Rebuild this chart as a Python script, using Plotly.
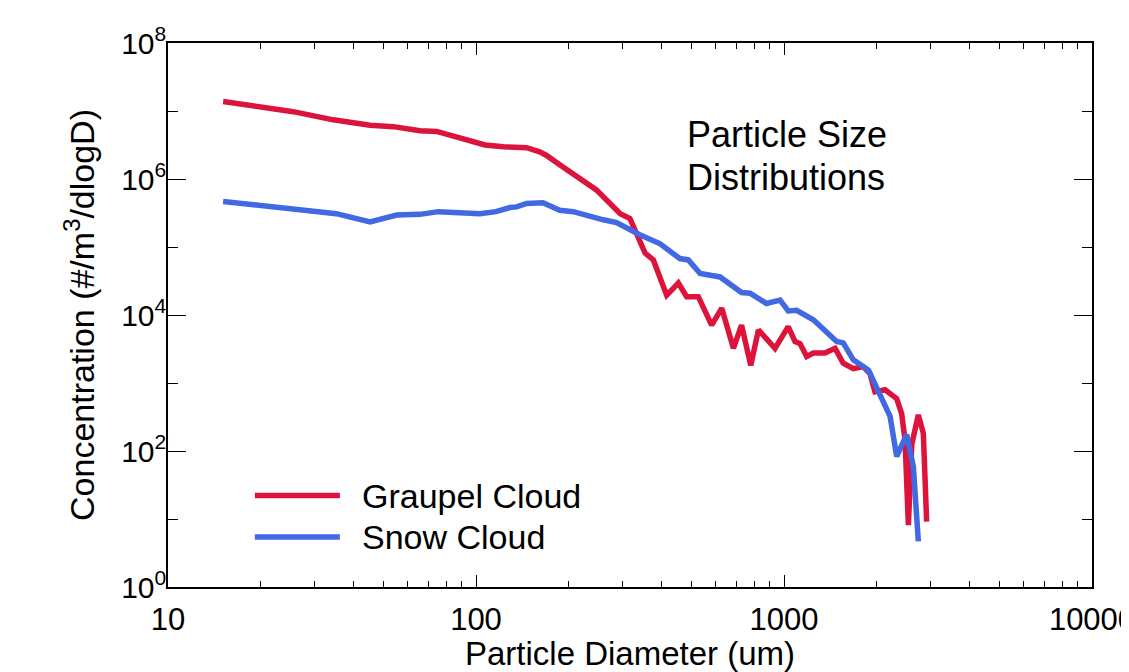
import plotly.graph_objects as go

# Graupel cloud size distribution (diameter um, concentration #/m^3/dlogD)
graupel_d = [15.1, 25.5, 34.4, 45.3, 53.9, 65.8, 74.5, 95.7, 107, 122.7, 146, 161, 169,
             187, 218, 246, 294, 316, 354, 376.5, 416, 454, 483, 527, 582, 628, 685,
             728, 780, 826, 935, 1032, 1086, 1127, 1185, 1245, 1358, 1465, 1557, 1679,
             1808, 1901, 1974, 2128, 2322, 2410, 2472, 2534, 2600, 2730, 2834, 2905]
graupel_logc = [7.14, 6.99, 6.87, 6.79, 6.77, 6.71, 6.70, 6.57, 6.50, 6.475, 6.46, 6.40, 6.35,
                6.21, 6.01, 5.84, 5.49, 5.42, 4.91, 4.81, 4.29, 4.47, 4.27, 4.27, 3.85, 4.10, 3.51,
                3.85, 3.26, 3.78, 3.51, 3.83, 3.61, 3.58, 3.39, 3.44, 3.44, 3.51, 3.29, 3.21,
                3.24, 3.14, 2.87, 2.90, 2.77, 2.55, 2.16, 0.91, 2.10, 2.53, 2.26, 0.96]

# Snow cloud size distribution
snow_d = [15.1, 35.2, 45.3, 55.3, 65.8, 75.5, 103, 116, 129, 135.5, 146, 165, 187, 207,
          259, 286, 340, 395, 459, 489, 534, 620, 728, 776, 877, 971, 1032, 1099, 1245,
          1341, 1482, 1557, 1679, 1880, 2053, 2210, 2322, 2410, 2502, 2630, 2730]
snow_logc = [5.67, 5.49, 5.37, 5.47, 5.48, 5.52, 5.49, 5.52, 5.58, 5.59, 5.64, 5.65, 5.54, 5.52,
             5.40, 5.36, 5.18, 5.05, 4.83, 4.81, 4.61, 4.56, 4.33, 4.32, 4.17, 4.22, 4.06, 4.07, 3.93,
             3.80, 3.61, 3.59, 3.34, 3.19, 2.80, 2.51, 1.92, 2.06, 2.24, 1.77, 0.67]

series_names = ["Graupel Cloud", "Snow Cloud"]
series_colors = ["#DC143C", "#4169E1"]

x_ticks = [10, 100, 1000, 10000]
x_ticktext = ["10", "100", "1000", "10000"]
y_ticks = [1, 1e2, 1e4, 1e6, 1e8]
y_ticktext = ["10<sup>0</sup>", "10<sup>2</sup>", "10<sup>4</sup>", "10<sup>6</sup>", "10<sup>8</sup>"]

FONT = "Liberation Sans, Arial, Helvetica, sans-serif"

fig = go.Figure()
for d, lc, name, col in [(graupel_d, graupel_logc, series_names[0], series_colors[0]),
                         (snow_d, snow_logc, series_names[1], series_colors[1])]:
    fig.add_trace(go.Scatter(x=d, y=[10 ** v for v in lc], mode="lines", name=name,
                             line=dict(color=col, width=5.5), showlegend=False))

# custom legend (long line samples like the reference)
for i, (name, col) in enumerate(zip(series_names, series_colors)):
    yp = 0.168 - i * 0.076
    fig.add_shape(type="line", xref="paper", yref="paper", x0=0.094, x1=0.186, y0=yp, y1=yp,
                  line=dict(color=col, width=5.5))
    fig.add_annotation(xref="paper", yref="paper", x=0.208, y=yp, text=name, showarrow=False,
                       xanchor="left", yanchor="middle", font=dict(size=34, color="black", family=FONT))

for txt, yp in [("Particle Size", 0.832), ("Distributions", 0.753)]:
    fig.add_annotation(xref="paper", yref="paper", x=0.559, y=yp, text=txt, showarrow=False,
                       align="left", xanchor="left", yanchor="middle",
                       font=dict(size=36, color="black", family=FONT))

x_minor = [m * 10 ** e for e in (1, 2, 3) for m in range(2, 10)]

fig.update_xaxes(type="log", range=[1, 4], tickvals=x_ticks, ticktext=x_ticktext,
                 showline=True, linecolor="black", linewidth=1.5, mirror="allticks",
                 ticks="inside", ticklen=12, tickwidth=1.3, tickcolor="black", automargin=False,
                 showgrid=False, zeroline=False, ticklabeloverflow="allow", ticklabelstandoff=4,
                 minor=dict(tickvals=x_minor, ticks="inside", ticklen=6, tickwidth=1.2, tickcolor="black", showgrid=False),
                 tickfont=dict(size=31, color="black", family=FONT),
                 title=dict(text="Particle Diameter (um)", font=dict(size=33, color="black", family=FONT), standoff=2))
fig.update_yaxes(type="log", range=[0, 8], tickvals=y_ticks, ticktext=y_ticktext,
                 showline=True, linecolor="black", linewidth=1.5, mirror="allticks",
                 ticks="inside", ticklen=18, tickwidth=1.3, tickcolor="black", automargin=False,
                 showgrid=False, zeroline=False, ticklabelstandoff=-6,
                 minor=dict(tickvals=[10, 1e3, 1e5, 1e7], ticks="inside", ticklen=10, tickwidth=1.2, tickcolor="black", showgrid=False),
                 tickfont=dict(size=30, color="black", family=FONT),
                 title=dict(text="Concentration (#/m<sup>3</sup>/dlogD)", font=dict(size=34, color="black", family=FONT), standoff=16))

fig.update_layout(width=1121, height=664, margin=dict(l=160, r=37, t=35, b=85, autoexpand=False),
                  paper_bgcolor="white", plot_bgcolor="white", showlegend=False)

fig.write_html("out.html")
